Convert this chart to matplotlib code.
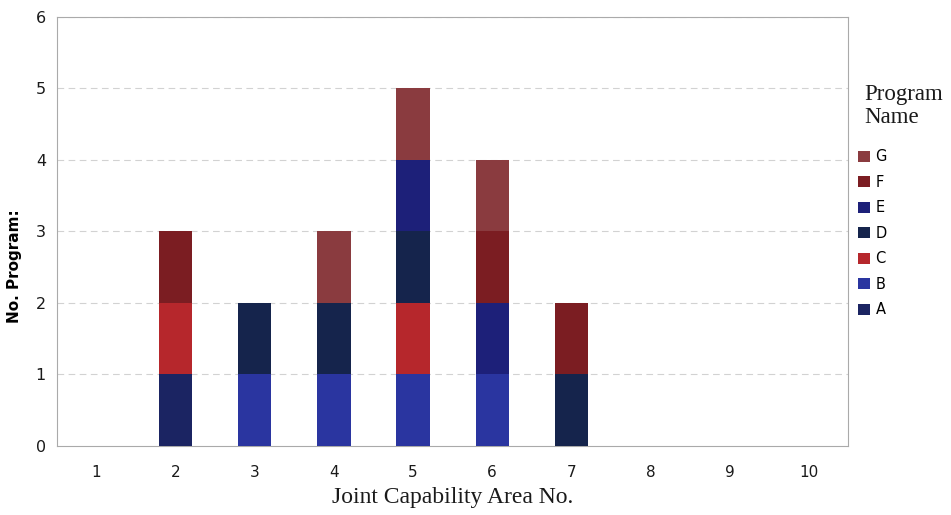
import matplotlib
matplotlib.use("Agg")
import matplotlib.pyplot as plt
import numpy as np

# Joint capability areas and number of programs per area, by program
areas = [1, 2, 3, 4, 5, 6, 7, 8, 9, 10]
programs = ["A", "B", "C", "D", "E", "F", "G"]
prog_A = [0, 1, 0, 0, 0, 0, 0, 0, 0, 0]
prog_B = [0, 0, 1, 1, 1, 1, 0, 0, 0, 0]
prog_C = [0, 1, 0, 0, 1, 0, 0, 0, 0, 0]
prog_D = [0, 0, 1, 1, 1, 0, 1, 0, 0, 0]
prog_E = [0, 0, 0, 0, 1, 1, 0, 0, 0, 0]
prog_F = [0, 1, 0, 0, 0, 1, 1, 0, 0, 0]
prog_G = [0, 0, 0, 1, 1, 1, 0, 0, 0, 0]
y_ticks = [0, 1, 2, 3, 4, 5, 6]

series = [prog_A, prog_B, prog_C, prog_D, prog_E, prog_F, prog_G]
colors = ["#1b2462", "#2a35a0", "#b6272c", "#15244c", "#1d2079", "#7b1d22", "#8a3b3f"]

fig = plt.figure(figsize=(9.51, 5.15), dpi=100)
ax = fig.add_axes([0.06, 0.134, 0.832, 0.833])

x = np.arange(len(areas))
bottom = np.zeros(len(areas))
handles = []
for name, vals, col in zip(programs, series, colors):
    vals = np.array(vals, dtype=float)
    h = ax.bar(x, vals, width=0.42, bottom=bottom, color=col, label=name,
               edgecolor="none", zorder=3)
    handles.append(h)
    bottom += vals

ax.set_xlim(-0.5, len(areas) - 0.5)
ax.set_ylim(0, 6)
ax.set_xticks(x)
ax.set_xticklabels([str(a) for a in areas], fontsize=11, color="#1a1a1a")
ax.set_yticks(y_ticks)
ax.set_yticklabels([str(v) for v in y_ticks], fontsize=11.5, color="#1a1a1a")
ax.tick_params(length=0)
ax.tick_params(axis="x", pad=14)
ax.tick_params(axis="y", pad=8)

for yv in y_ticks[1:]:
    ax.axhline(yv, color="#d2d2d2", lw=0.8, ls=(0, (6, 4)), zorder=1)
for s in ax.spines.values():
    s.set_color("#aaaaaa")
    s.set_linewidth(0.8)

ax.set_ylabel("No. Program:", fontsize=11, fontweight="bold")
ax.yaxis.set_label_coords(-0.044, 0.42)
ax.set_xlabel("Joint Capability Area No.", fontsize=17,
              family="Liberation Serif", labelpad=5, color="#1a1a1a")

leg = ax.legend(handles[::-1], programs[::-1], loc="upper left",
                bbox_to_anchor=(1.005, 0.705), frameon=False, fontsize=10.5,
                handlelength=0.8, handleheight=0.8, handletextpad=0.4,
                labelspacing=0.72, borderaxespad=0)
fig.text(0.909, 0.751, "Program\nName", fontsize=16.5, family="Liberation Serif",
         ha="left", va="bottom", linespacing=1.15, color="#1a1a1a")

fig.savefig("out.png", dpi=100)
